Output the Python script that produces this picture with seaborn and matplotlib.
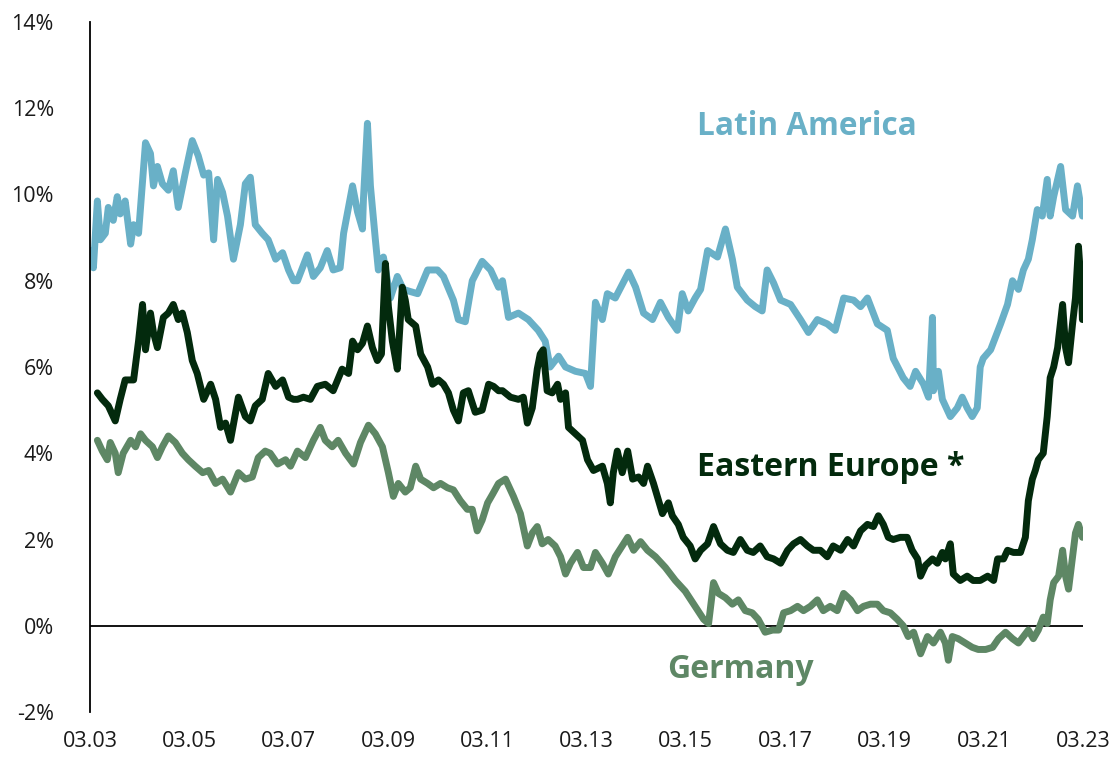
import numpy as np
import pandas as pd
import matplotlib
matplotlib.use("Agg")
import matplotlib.pyplot as plt
import seaborn as sns
from matplotlib import font_manager as fm

# ---------------- data (decimal years, yields in %) ----------------
latam_t = [2003.17, 2003.23, 2003.31, 2003.37, 2003.47, 2003.53, 2003.63, 2003.71, 2003.77, 2003.87,
           2003.98, 2004.04, 2004.14, 2004.28, 2004.38, 2004.44, 2004.52, 2004.62, 2004.74, 2004.84,
           2004.94, 2005.08, 2005.22, 2005.34, 2005.45, 2005.55, 2005.65, 2005.73, 2005.83, 2005.93,
           2006.05, 2006.19, 2006.29, 2006.39, 2006.49, 2006.63, 2006.75, 2006.90, 2007.04, 2007.16,
           2007.26, 2007.34, 2007.54, 2007.66, 2007.80, 2007.94, 2008.06, 2008.20, 2008.27, 2008.45,
           2008.55, 2008.65, 2008.67, 2008.75, 2008.81, 2008.91, 2008.97, 2009.07, 2009.21, 2009.35,
           2009.47, 2009.61, 2009.76, 2009.96, 2010.16, 2010.28, 2010.48, 2010.58, 2010.72, 2010.86,
           2011.06, 2011.23, 2011.39, 2011.47, 2011.59, 2011.79, 2011.99, 2012.19, 2012.33, 2012.43,
           2012.60, 2012.74, 2012.94, 2013.14, 2013.24, 2013.34, 2013.48, 2013.58, 2013.74, 2014.01,
           2014.15, 2014.31, 2014.49, 2014.65, 2014.81, 2014.99, 2015.09, 2015.21, 2015.35, 2015.46,
           2015.60, 2015.80, 2015.96, 2016.10, 2016.20, 2016.40, 2016.56, 2016.70, 2016.80, 2016.93,
           2017.07, 2017.27, 2017.47, 2017.63, 2017.81, 2018.01, 2018.17, 2018.34, 2018.54, 2018.68,
           2018.82, 2019.02, 2019.22, 2019.34, 2019.54, 2019.68, 2019.79, 2019.95, 2020.05, 2020.13,
           2020.15, 2020.25, 2020.33, 2020.49, 2020.63, 2020.73, 2020.83, 2020.93, 2021.03, 2021.09,
           2021.15, 2021.30, 2021.40, 2021.50, 2021.64, 2021.74, 2021.86, 2021.96, 2022.06, 2022.14,
           2022.24, 2022.34, 2022.44, 2022.50, 2022.57, 2022.71, 2022.81, 2022.95, 2023.05, 2023.15]
latam_v = [8.7, 8.3, 9.85, 8.95, 9.1, 9.7, 9.4, 9.95, 9.55, 9.85,
           8.85, 9.3, 9.1, 11.2, 10.95, 10.2, 10.65, 10.25, 10.1, 10.55,
           9.7, 10.5, 11.25, 10.9, 10.45, 10.5, 8.95, 10.35, 10.05, 9.5,
           8.5, 9.3, 10.25, 10.4, 9.3, 9.1, 8.95, 8.5, 8.65, 8.25,
           8.0, 8.0, 8.6, 8.1, 8.3, 8.7, 8.25, 8.3, 9.1, 10.2,
           9.6, 9.2, 9.9, 11.65, 10.2, 8.95, 8.25, 8.55, 7.6, 8.1,
           7.8, 7.75, 7.7, 8.25, 8.25, 8.1, 7.55, 7.1, 7.05, 8.0,
           8.45, 8.25, 7.85, 8.0, 7.15, 7.25, 7.1, 6.85, 6.6, 6.0,
           6.25, 6.0, 5.9, 5.85, 5.55, 7.5, 7.1, 7.7, 7.6, 8.2,
           7.85, 7.25, 7.1, 7.5, 7.15, 6.85, 7.7, 7.3, 7.6, 7.8,
           8.7, 8.55, 9.2, 8.5, 7.85, 7.55, 7.4, 7.3, 8.25, 7.95,
           7.55, 7.45, 7.1, 6.8, 7.1, 7.0, 6.85, 7.6, 7.55, 7.4,
           7.6, 7.0, 6.85, 6.2, 5.75, 5.55, 5.9, 5.6, 5.3, 7.15,
           5.45, 5.9, 5.25, 4.85, 5.05, 5.3, 5.05, 4.85, 5.05, 6.0,
           6.2, 6.4, 6.7, 7.0, 7.45, 8.0, 7.8, 8.25, 8.5, 8.95,
           9.65, 9.5, 10.35, 9.5, 9.95, 10.65, 9.65, 9.5, 10.2, 9.5]

easteu_t = [2003.31, 2003.41, 2003.53, 2003.67, 2003.77, 2003.87, 2004.04, 2004.14, 2004.22, 2004.28,
            2004.38, 2004.44, 2004.52, 2004.64, 2004.74, 2004.84, 2004.94, 2005.02, 2005.12, 2005.22,
            2005.32, 2005.45, 2005.59, 2005.69, 2005.79, 2005.89, 2005.99, 2006.15, 2006.29, 2006.39,
            2006.49, 2006.63, 2006.75, 2006.90, 2007.04, 2007.16, 2007.26, 2007.34, 2007.46, 2007.60,
            2007.74, 2007.90, 2008.06, 2008.24, 2008.37, 2008.45, 2008.55, 2008.65, 2008.75, 2008.85,
            2008.95, 2009.03, 2009.11, 2009.17, 2009.25, 2009.35, 2009.45, 2009.51, 2009.57, 2009.72,
            2009.82, 2009.96, 2010.06, 2010.18, 2010.28, 2010.38, 2010.48, 2010.58, 2010.68, 2010.78,
            2010.92, 2011.06, 2011.19, 2011.29, 2011.39, 2011.47, 2011.63, 2011.79, 2011.89, 2011.97,
            2012.07, 2012.17, 2012.23, 2012.29, 2012.37, 2012.47, 2012.58, 2012.64, 2012.74, 2012.80,
            2012.94, 2013.08, 2013.18, 2013.30, 2013.48, 2013.58, 2013.64, 2013.70, 2013.78, 2013.88,
            2013.99, 2014.09, 2014.21, 2014.31, 2014.39, 2014.51, 2014.69, 2014.81, 2014.89, 2015.01,
            2015.11, 2015.25, 2015.35, 2015.46, 2015.60, 2015.72, 2015.86, 2016.00, 2016.12, 2016.26,
            2016.40, 2016.52, 2016.66, 2016.80, 2016.93, 2017.07, 2017.21, 2017.33, 2017.47, 2017.61,
            2017.73, 2017.87, 2018.01, 2018.13, 2018.28, 2018.42, 2018.54, 2018.68, 2018.82, 2018.94,
            2019.04, 2019.14, 2019.24, 2019.34, 2019.48, 2019.62, 2019.72, 2019.83, 2019.89, 2019.99,
            2020.13, 2020.23, 2020.33, 2020.39, 2020.49, 2020.55, 2020.69, 2020.83, 2020.95, 2021.09,
            2021.24, 2021.36, 2021.44, 2021.56, 2021.64, 2021.76, 2021.90, 2022.00, 2022.06, 2022.14,
            2022.20, 2022.26, 2022.36, 2022.44, 2022.50, 2022.57, 2022.65, 2022.75, 2022.81, 2022.87,
            2022.95, 2023.01, 2023.07, 2023.13, 2023.15]
easteu_v = [5.4, 5.25, 5.1, 4.75, 5.25, 5.7, 5.7, 6.6, 7.45, 6.4,
            7.25, 6.8, 6.45, 7.15, 7.25, 7.45, 7.1, 7.25, 6.8, 6.15,
            5.85, 5.25, 5.6, 5.25, 4.6, 4.7, 4.3, 5.3, 4.85, 4.75,
            5.1, 5.25, 5.85, 5.55, 5.7, 5.3, 5.25, 5.25, 5.3, 5.25,
            5.55, 5.6, 5.45, 5.95, 5.85, 6.6, 6.4, 6.55, 6.95, 6.45,
            6.15, 6.3, 8.4, 7.4, 6.6, 5.95, 7.85, 7.55, 7.1, 6.95,
            6.3, 6.0, 5.6, 5.7, 5.6, 5.4, 5.0, 4.75, 5.4, 5.45,
            4.95, 5.0, 5.6, 5.55, 5.45, 5.45, 5.3, 5.25, 5.3, 4.7,
            5.05, 5.95, 6.3, 6.4, 5.45, 5.4, 5.6, 5.25, 5.4, 4.6,
            4.45, 4.3, 3.85, 3.6, 3.7, 3.3, 2.85, 3.55, 4.05, 3.55,
            4.05, 3.4, 3.45, 3.3, 3.7, 3.3, 2.6, 2.85, 2.55, 2.35,
            2.05, 1.85, 1.55, 1.75, 1.9, 2.3, 1.9, 1.75, 1.7, 2.0,
            1.75, 1.7, 1.85, 1.6, 1.55, 1.45, 1.75, 1.9, 2.0, 1.85,
            1.75, 1.75, 1.6, 1.85, 1.75, 2.0, 1.85, 2.2, 2.35, 2.3,
            2.55, 2.35, 2.05, 2.0, 2.05, 2.05, 1.75, 1.55, 1.15, 1.4,
            1.55, 1.45, 1.7, 1.55, 1.9, 1.2, 1.05, 1.15, 1.05, 1.05,
            1.15, 1.05, 1.55, 1.55, 1.75, 1.7, 1.7, 2.05, 2.9, 3.4,
            3.6, 3.85, 4.0, 4.85, 5.75, 6.0, 6.45, 7.45, 6.45, 6.1,
            7.0, 7.6, 8.8, 7.8, 7.1]

germany_t = [2003.31, 2003.41, 2003.51, 2003.57, 2003.67, 2003.73, 2003.83, 2003.98, 2004.08, 2004.18,
             2004.28, 2004.42, 2004.52, 2004.62, 2004.74, 2004.88, 2005.02, 2005.14, 2005.28, 2005.43,
             2005.55, 2005.69, 2005.83, 2005.99, 2006.15, 2006.29, 2006.43, 2006.55, 2006.69, 2006.79,
             2006.94, 2007.10, 2007.20, 2007.34, 2007.50, 2007.66, 2007.80, 2007.90, 2008.04, 2008.16,
             2008.31, 2008.47, 2008.61, 2008.77, 2008.91, 2009.05, 2009.17, 2009.27, 2009.37, 2009.51,
             2009.61, 2009.72, 2009.82, 2009.96, 2010.08, 2010.22, 2010.36, 2010.48, 2010.62, 2010.76,
             2010.86, 2010.96, 2011.06, 2011.17, 2011.27, 2011.39, 2011.53, 2011.69, 2011.83, 2011.97,
             2012.07, 2012.17, 2012.27, 2012.39, 2012.53, 2012.64, 2012.74, 2012.84, 2012.98, 2013.10,
             2013.24, 2013.34, 2013.48, 2013.60, 2013.74, 2013.88, 2013.99, 2014.11, 2014.25, 2014.39,
             2014.55, 2014.75, 2014.95, 2015.15, 2015.35, 2015.52, 2015.62, 2015.72, 2015.82, 2015.96,
             2016.10, 2016.22, 2016.36, 2016.50, 2016.62, 2016.76, 2016.91, 2017.03, 2017.13, 2017.27,
             2017.41, 2017.53, 2017.67, 2017.81, 2017.93, 2018.07, 2018.21, 2018.34, 2018.48, 2018.62,
             2018.74, 2018.88, 2019.02, 2019.14, 2019.28, 2019.42, 2019.54, 2019.64, 2019.75, 2019.89,
             2020.03, 2020.15, 2020.29, 2020.39, 2020.45, 2020.53, 2020.65, 2020.79, 2020.93, 2021.05,
             2021.20, 2021.34, 2021.46, 2021.60, 2021.74, 2021.86, 2021.96, 2022.06, 2022.16, 2022.26,
             2022.36, 2022.44, 2022.50, 2022.57, 2022.67, 2022.75, 2022.81, 2022.87, 2022.95, 2023.01,
             2023.07, 2023.15]
germany_v = [4.3, 4.05, 3.85, 4.25, 4.0, 3.55, 4.0, 4.3, 4.15, 4.45,
             4.3, 4.15, 3.9, 4.15, 4.4, 4.25, 4.0, 3.85, 3.7, 3.55,
             3.6, 3.3, 3.4, 3.1, 3.55, 3.4, 3.45, 3.9, 4.05, 4.0,
             3.75, 3.85, 3.7, 4.05, 3.9, 4.3, 4.6, 4.3, 4.15, 4.3,
             4.0, 3.75, 4.25, 4.65, 4.45, 4.15, 3.55, 3.0, 3.3, 3.1,
             3.2, 3.7, 3.4, 3.3, 3.2, 3.3, 3.2, 3.15, 2.9, 2.7,
             2.7, 2.2, 2.45, 2.85, 3.05, 3.3, 3.4, 3.0, 2.6, 1.85,
             2.15, 2.3, 1.9, 2.0, 1.85, 1.6, 1.2, 1.45, 1.7, 1.35,
             1.35, 1.7, 1.45, 1.2, 1.6, 1.85, 2.05, 1.75, 1.95, 1.75,
             1.6, 1.35, 1.05, 0.8, 0.45, 0.15, 0.05, 1.0, 0.75, 0.65,
             0.5, 0.6, 0.35, 0.3, 0.15, -0.15, -0.1, -0.1, 0.3, 0.35,
             0.45, 0.35, 0.45, 0.6, 0.35, 0.45, 0.35, 0.75, 0.6, 0.35,
             0.45, 0.5, 0.5, 0.35, 0.3, 0.15, 0.0, -0.25, -0.15, -0.65,
             -0.25, -0.4, -0.15, -0.4, -0.8, -0.25, -0.3, -0.4, -0.5, -0.55,
             -0.55, -0.5, -0.3, -0.15, -0.3, -0.4, -0.25, -0.1, -0.3, -0.1,
             0.2, 0.05, 0.6, 1.0, 1.15, 1.75, 1.15, 0.85, 1.6, 2.15,
             2.35, 2.05]

series_names = ["Latin America", "Eastern Europe *", "Germany"]
series_colors = {"Latin America": "#69B0C7", "Eastern Europe *": "#032A0D", "Germany": "#5E8765"}
y_ticks = [-2, 0, 2, 4, 6, 8, 10, 12, 14]
x_tick_years = [2003, 2005, 2007, 2009, 2011, 2013, 2015, 2017, 2019, 2021, 2023]


def to_date(d):
    y = int(d)
    return pd.Timestamp(year=y, month=1, day=1) + pd.Timedelta(days=(d - y) * 365.25)


frames = []
for name, t, v in [("Latin America", latam_t, latam_v),
                   ("Eastern Europe *", easteu_t, easteu_v),
                   ("Germany", germany_t, germany_v)]:
    frames.append(pd.DataFrame({"date": [to_date(d) for d in t], "value": v, "series": name}))
df = pd.concat(frames, ignore_index=True)

# ---------------- style ----------------
sns.set_style("white")
names = {f.name for f in fm.fontManager.ttflist}
label_font = "Open Sans" if "Open Sans" in names else "DejaVu Sans"
tick_font = "Liberation Sans Narrow" if "Liberation Sans Narrow" in names else label_font
tick_size = 18 if tick_font == "Liberation Sans Narrow" else 15.5
plt.rcParams["font.family"] = [label_font, "DejaVu Sans"]

fig = plt.figure(figsize=(11.14, 7.59), dpi=100)
ax = fig.add_axes([90 / 1114, 47 / 759, 993 / 1114, 690 / 759])

ax.axhline(0, color="black", lw=1.3, zorder=1)
sns.lineplot(data=df, x="date", y="value", hue="series",
             hue_order=["Germany", "Latin America", "Eastern Europe *"],
             palette=series_colors, linewidth=5.0, legend=False,
             estimator=None, sort=True, ax=ax, zorder=2)
for line in ax.get_lines():
    line.set_solid_joinstyle("round")
    line.set_solid_capstyle("round")

ax.set_xlim(pd.Timestamp("2003-03-01"), pd.Timestamp("2023-03-01"))
ax.set_ylim(-2, 14)
ax.set_yticks(y_ticks)
ax.set_yticklabels([f"{v}%" for v in y_ticks])
ax.set_xticks([pd.Timestamp(year=y, month=3, day=1) for y in x_tick_years])
ax.set_xticklabels([f"03.{y % 100:02d}" for y in x_tick_years])
ax.set_xlabel("")
ax.set_ylabel("")

for lab in ax.get_xticklabels() + ax.get_yticklabels():
    lab.set_fontfamily(tick_font)
    lab.set_fontsize(tick_size)
    lab.set_color("#1a1a1a")
ax.tick_params(axis="both", length=0)
ax.tick_params(axis="y", pad=26)
ax.tick_params(axis="x", pad=14)

for s in ["top", "right", "bottom"]:
    ax.spines[s].set_visible(False)
ax.spines["left"].set_color("black")
ax.spines["left"].set_linewidth(1.3)
ax.grid(False)

ax.text(0.611, 0.848, "Latin America", transform=ax.transAxes, color=series_colors["Latin America"],
        fontsize=22.7, fontweight="bold", va="center", ha="left")
ax.text(0.611, 0.354, "Eastern Europe *", transform=ax.transAxes, color=series_colors["Eastern Europe *"],
        fontsize=23, fontweight="bold", va="center", ha="left")
ax.text(0.581, 0.061, "Germany", transform=ax.transAxes, color=series_colors["Germany"],
        fontsize=23, fontweight="bold", va="center", ha="left")

fig.savefig("out.png", dpi=100)
